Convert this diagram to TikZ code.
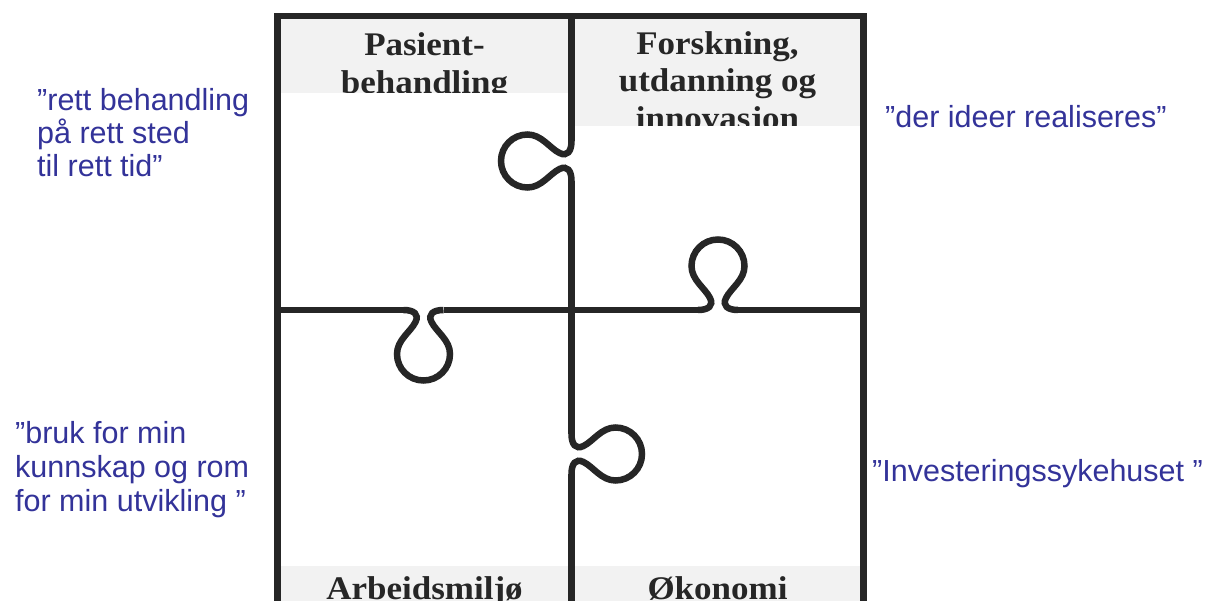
\documentclass[tikz,border=0pt]{standalone}
\usepackage{fontspec}
\setmainfont{Liberation Sans}
\newfontfamily\hdrfont[FakeStretch=1.06]{Liberation Serif}
\definecolor{ink}{HTML}{262626}
\definecolor{boxgray}{HTML}{F2F2F2}
\definecolor{quotecol}{HTML}{333399}
\tikzset{
  edge/.style={draw=ink, line width=6.5pt},
  hdr/.style={font=\hdrfont\bfseries\fontsize{33}{38}\selectfont, text=ink, inner sep=0pt, anchor=base},
  quotetext/.style={font=\fontsize{30.5}{33}\selectfont, text=quotecol, inner sep=0pt, anchor=base west},
  headbox/.style={fill=boxgray, draw=none},
  knob/.pic={
    \draw[edge] (-20,0) .. controls (-10,0) and (-4,-4) .. (-8,-12)
      .. controls (-13,-22) and (-26.5,-30) .. (-26.5,-44)
      .. controls (-26.5,-58.64) and (-14.64,-70.5) .. (0,-70.5)
      .. controls (14.64,-70.5) and (26.5,-58.64) .. (26.5,-44)
      .. controls (26.5,-30) and (13,-22) .. (8,-12)
      .. controls (4,-4) and (10,0) .. (20,0);
  }
}
\begin{document}
\begin{tikzpicture}[x=1pt,y=-1pt]
\useasboundingbox (0,0) rectangle (1205,601);
% header boxes
\fill[headbox] (277.5,16) rectangle (571.5,92.7);
\fill[headbox] (571.5,16) rectangle (863.5,126);
\fill[headbox] (277.5,566) rectangle (571.5,601);
\fill[headbox] (571.5,566) rectangle (863.5,601);
\begin{scope}
  \clip (277.5,16) rectangle (571.5,92.7);
  \node[hdr] (p1) at (424.5,56) {Pasient-};
  \node[hdr] (p2) at (424.5,94) {behandling};
\end{scope}
\begin{scope}
  \clip (571.5,16) rectangle (863.5,126);
  \node[hdr] (f1) at (717.5,55) {Forskning,};
  \node[hdr] (f2) at (717.5,92) {utdanning og};
  \node[hdr] (f3) at (717.5,130) {innovasjon};
\end{scope}
\begin{scope}
  \clip (277.5,566) rectangle (863.5,601);
  \node[hdr] (a1) at (424.5,599) {Arbeidsmiljø};
  \node[hdr] (o1) at (717.5,599) {Økonomi};
\end{scope}
% frame
\draw[edge] (277.5,601) -- (277.5,16) -- (863.5,16) -- (863.5,601);
% middle vertical
\draw[edge] (571.5,16) -- (571.5,141);
\pic (k1) [rotate=90] at (571.5,161) {knob};
\draw[edge] (571.5,181) -- (571.5,434);
\pic (k4) [rotate=-90] at (571.5,454) {knob};
\draw[edge] (571.5,474) -- (571.5,601);
% middle horizontal
\draw[edge] (277.5,310) -- (403.5,310);
\pic (k3) [yscale=-1] at (423.5,310) {knob};
\draw[edge] (443.5,310) -- (698,310);
\pic (k2) at (718,310) {knob};
\draw[edge] (738,310) -- (863.5,310);
% quotes
\node[quotetext] (q1a) at (37,111) {”rett behandling};
\node[quotetext] (q1b) at (37,144) {på rett sted};
\node[quotetext] (q1c) at (37,177) {til rett tid”};
\node[quotetext] (q2) at (885,128) {”der ideer realiseres”};
\node[quotetext] (q3a) at (15,443) {”bruk for min};
\node[quotetext] (q3b) at (15,477) {kunnskap og rom};
\node[quotetext] (q3c) at (15,511) {for min utvikling ”};
\node[quotetext] (q4) at (872,481) {”Investeringssykehuset ”};
\end{tikzpicture}
\end{document}
